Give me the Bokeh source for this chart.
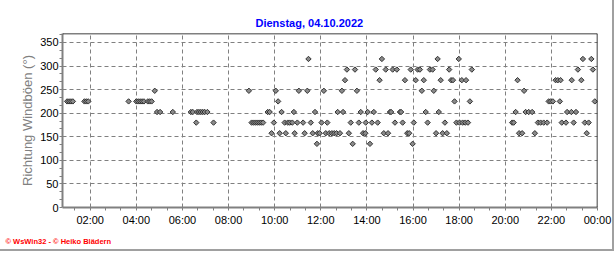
import math
from bokeh.plotting import figure
from bokeh.models import Range1d, Span, FixedTicker, Title
from bokeh.embed import file_html
from bokeh.resources import INLINE

# ---- data -------------------------------------------------------------
title_text = "Dienstag, 04.10.2022"
y_label = "Richtung Windböen (°)"
footer_text = "© WsWin32 - © Heiko Blädern"

x_tick_hours = [2, 4, 6, 8, 10, 12, 14, 16, 18, 20, 22, 24]
x_tick_labels = ["02:00", "04:00", "06:00", "08:00", "10:00", "12:00",
                 "14:00", "16:00", "18:00", "20:00", "22:00", "00:00"]
y_ticks = [0, 50, 100, 150, 200, 250, 300, 350]

times = [
    "01:00", "01:05", "01:10", "01:15", "01:45", "01:50", "01:55", "03:40",
    "04:00", "04:05", "04:10", "04:15", "04:20", "04:30", "04:35", "04:40",
    "04:48", "04:54", "05:02", "05:35", "06:22", "06:27", "06:36", "06:38",
    "06:43", "06:48", "06:53", "06:58", "07:05", "07:21", "08:53",
    "09:00", "09:05", "09:10", "09:15", "09:20", "09:25", "09:30",
    "09:42", "09:47", "09:52", "09:58",
    "10:03", "10:09", "10:13", "10:18", "10:26", "10:29", "10:34", "10:39",
    "10:46", "10:50", "10:52", "10:59",
    "11:03", "11:14", "11:18", "11:25", "11:28", "11:34", "11:39", "11:45",
    "11:50", "11:52", "11:57",
    "12:02", "12:08", "12:13", "12:17", "12:22", "12:29", "12:35", "12:41",
    "12:44", "12:50", "12:55", "12:58",
    "13:03", "13:08", "13:13", "13:18", "13:23", "13:29", "13:34", "13:39",
    "13:44", "13:50", "13:56", "13:57",
    "14:02", "14:08", "14:13", "14:18", "14:23", "14:28", "14:33", "14:39",
    "14:44", "14:49", "14:55",
    "15:00", "15:03", "15:07", "15:13", "15:18", "15:26", "15:29", "15:33",
    "15:39", "15:45", "15:50", "15:54", "15:59",
    "16:02", "16:07", "16:12", "16:18", "16:23", "16:28", "16:33", "16:38",
    "16:44", "16:51", "16:54",
    "17:00", "17:04", "17:07", "17:12", "17:17", "17:23", "17:28", "17:34",
    "17:39", "17:44", "17:48", "17:53", "17:59",
    "18:01", "18:07", "18:09", "18:16", "18:18", "18:23", "18:28", "18:33",
    "20:18", "20:22", "20:27", "20:32", "20:36", "20:44", "20:49", "20:53",
    "21:01", "21:10", "21:17", "21:25", "21:32", "21:40", "21:49", "21:53",
    "21:58",
    "22:04", "22:11", "22:17", "22:22", "22:24", "22:27", "22:38", "22:41",
    "22:52", "22:53", "22:58",
    "23:04", "23:09", "23:18", "23:22", "23:27", "23:32", "23:37", "23:44",
    "23:48", "23:53",
]
directions = [
    225, 225, 225, 225, 225, 225, 225, 225,
    225, 225, 225, 225, 225, 225, 225, 225,
    247.5, 202.5, 202.5, 202.5, 202.5, 202.5, 180, 202.5,
    202.5, 202.5, 202.5, 202.5, 202.5, 180, 247.5,
    180, 180, 180, 180, 180, 180, 180,
    202.5, 202.5, 157.5, 180,
    247.5, 225, 157.5, 202.5, 180, 157.5, 180, 180,
    180, 202.5, 157.5, 180,
    247.5, 180, 157.5, 247.5, 315, 180, 157.5, 202.5,
    135, 157.5, 157.5,
    180, 247.5, 157.5, 180, 157.5, 157.5, 157.5, 157.5,
    202.5, 157.5, 247.5, 202.5,
    270, 292.5, 157.5, 180, 135, 292.5, 247.5, 180,
    202.5, 157.5, 157.5, 180,
    202.5, 135, 180, 202.5, 292.5, 180, 270, 315,
    157.5, 292.5, 157.5,
    202.5, 202.5, 292.5, 180, 292.5, 202.5, 202.5, 180,
    270, 157.5, 157.5, 292.5, 135,
    180, 270, 292.5, 292.5, 247.5, 270, 202.5, 180,
    292.5, 292.5, 247.5,
    157.5, 315, 202.5, 270, 157.5, 180, 157.5, 292.5,
    270, 270, 225, 180, 315,
    180, 270, 180, 180, 270, 180, 225, 292.5,
    180, 180, 202.5, 270, 157.5, 157.5, 247.5, 202.5,
    202.5, 202.5, 157.5, 180, 180, 180, 180, 225,
    225,
    225, 270, 270, 225, 270, 180, 180, 202.5,
    202.5, 270, 180,
    202.5, 292.5, 270, 315, 180, 157.5, 180, 315,
    292.5, 225,
]

hours = [int(t[:2]) + int(t[3:]) / 60.0 for t in times]

# ---- figure -----------------------------------------------------------
FONT = "Liberation Sans"
GRAY = "#808080"

p = figure(width=614, height=251, output_backend="svg", toolbar_location=None,
           x_range=Range1d(0.8, 24), y_range=Range1d(0, 369),
           min_border_left=62, min_border_right=17,
           min_border_top=33, min_border_bottom=42)
p.outline_line_color = None
p.background_fill_color = "white"
p.border_fill_color = "white"
p.styles = {"border-right": "2px solid #a0a0a0", "border-bottom": "2px solid #a0a0a0"}

# title above the frame
p.title = Title(text=title_text, align="left", offset=193, standoff=10,
                text_font=FONT, text_font_size="11px", text_font_style="bold",
                text_color="#0000ff")

p.scatter(hours, directions, marker="square", angle=math.pi / 4, size=3.8,
          fill_color="#8a8a8a", line_color="#333333", line_width=1)

# grids
for g in (p.xgrid, p.ygrid):
    g.grid_line_color = GRAY
    g.grid_line_dash = "4 3"
    g.grid_line_width = 1

# x axis
xa = p.xaxis[0]
x_minor = [m - k * 2.0 / 3.0 for m in x_tick_hours for k in (1, 2)]
xa.ticker = FixedTicker(ticks=x_tick_hours, minor_ticks=x_minor)
xa.major_label_overrides = dict(zip(x_tick_hours, x_tick_labels))

# y axis
ya = p.yaxis[0]
y_minor = [t + k * 50.0 / 3.0 for t in y_ticks for k in (1, 2)]
ya.ticker = FixedTicker(ticks=y_ticks, minor_ticks=y_minor)
ya.axis_label = y_label
ya.axis_label_text_color = GRAY
ya.axis_label_text_font = FONT
ya.axis_label_text_font_size = "13px"
ya.axis_label_text_font_style = "normal"
ya.axis_label_standoff = 2

for ax in (xa, ya):
    ax.axis_line_color = GRAY
    ax.axis_line_width = 2
    ax.major_tick_line_color = GRAY
    ax.minor_tick_line_color = GRAY
    ax.major_tick_in = 0
    ax.minor_tick_in = 0
    ax.major_tick_out = 3
    ax.minor_tick_out = 3
    ax.major_label_text_font = FONT
    ax.major_label_text_font_size = "11px"
    ax.major_label_text_color = "black"
xa.major_label_standoff = 3
ya.major_label_standoff = 1

# top / right frame border
p.add_layout(Span(location=369, dimension="width", line_color="black", line_width=1.5))
p.add_layout(Span(location=24, dimension="height", line_color="black", line_width=1.5))

# footer below the axis
p.add_layout(Title(text=footer_text, align="left", offset=-57, standoff=12,
                   text_font=FONT, text_font_size="7.5px", text_font_style="bold",
                   text_color="#ff0000"), "below")

open("out.html", "w").write(file_html(p, INLINE))
